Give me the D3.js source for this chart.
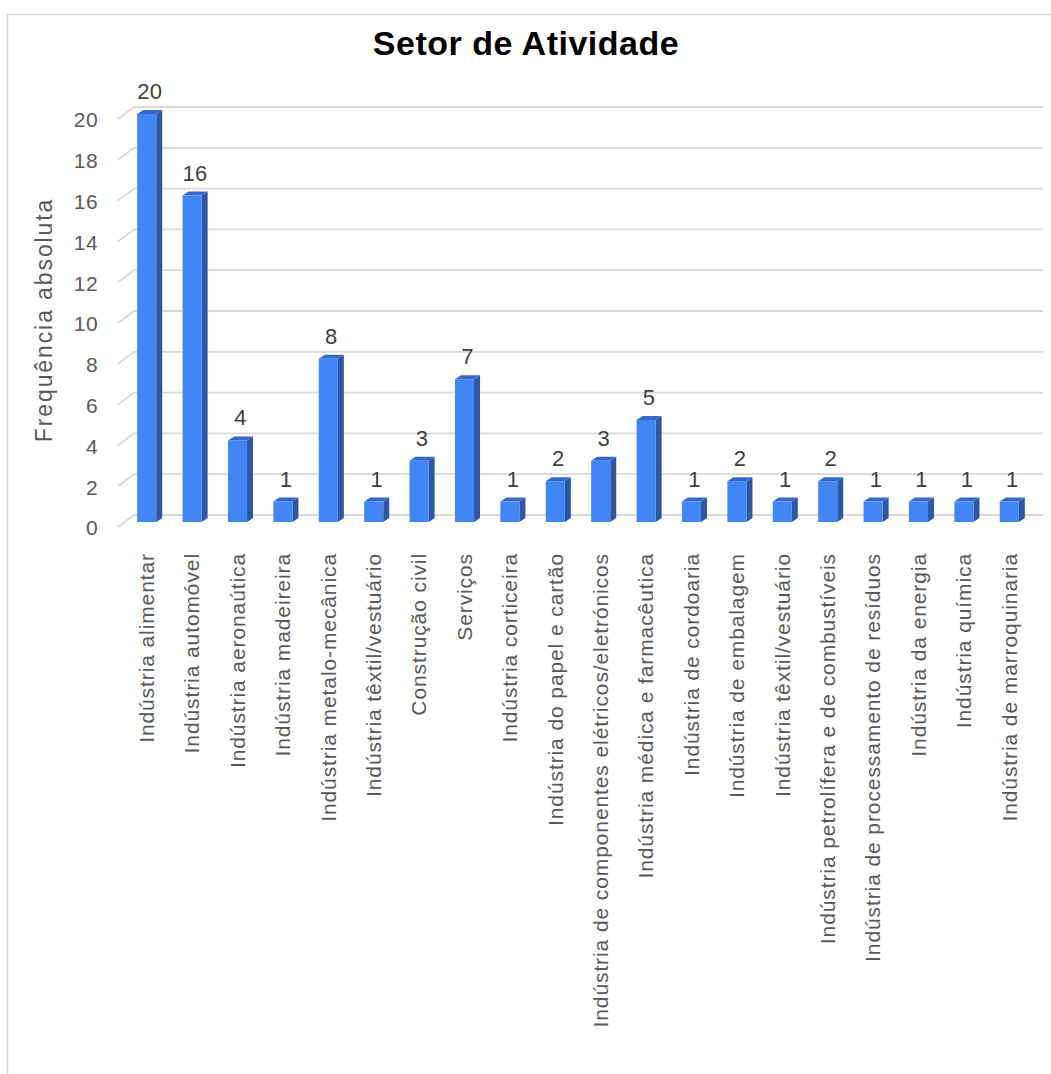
<!DOCTYPE html>
<html><head><meta charset="utf-8">
<script src="https://cdn.jsdelivr.net/npm/d3@7"></script>
<style>body{margin:0;background:#fff}svg{display:block;font-family:"Liberation Sans",Arial,sans-serif}</style>
</head><body><svg id="c" width="1051" height="1074"></svg>
<script>
const categories = ["Indústria alimentar","Indústria automóvel","Indústria aeronaútica","Indústria madeireira","Indústria metalo-mecânica","Indústria têxtil/vestuário","Construção civil","Serviços","Indústria corticeira","Indústria do papel e cartão","Indústria de componentes elétricos/eletrónicos","Indústria médica e farmacêutica","Indústria de cordoaria","Indústria de embalagem","Indústria têxtil/vestuário","Indústria petrolífera e de combustíveis","Indústria de processamento de resíduos","Indústria da energia","Indústria química","Indústria de marroquinaria"];
const values = [20,16,4,1,8,1,3,7,1,2,3,5,1,2,1,2,1,1,1,1];
const yTicks = [0,2,4,6,8,10,12,14,16,18,20];
const title = "Setor de Atividade";
const yTitle = "Frequência absoluta";

const svg = d3.select("#c");
svg.append("rect").attr("x",7.5).attr("y",14.5).attr("width",1100).attr("height",1100)
  .attr("fill","#fff").attr("stroke","#d9d9d9").attr("stroke-width",1.5);

const x = d3.scaleBand().domain(d3.range(categories.length)).range([124,1032]).paddingInner(0.58).paddingOuter(0.29);
const y = d3.scaleLinear().domain([0,20]).range([522,114]);

// gridlines
const g = svg.append("g");
yTicks.forEach(t=>{
  const yy = y(t);
  g.append("path").attr("d",`M118,${yy+5}L134,${yy-7}L1043,${yy-7}`)
    .attr("fill","none").attr("stroke","#d9d9d9").attr("stroke-width",1.8);
  g.append("text").attr("x",98).attr("y",yy+6).attr("dy","0.35em").attr("text-anchor","end")
    .attr("font-size",21).attr("letter-spacing",0.4).attr("fill","#595959").text(t);
});

const dx=6, dy=-4;
const bars = svg.append("g");
values.forEach((v,i)=>{
  const x0 = x(i), w = x.bandwidth(), yv = y(v), y0 = y(0);
  bars.append("path").attr("d",`M${x0+w},${yv}L${x0+w+dx},${yv+dy}L${x0+w+dx},${y0+dy}L${x0+w},${y0}Z`).attr("fill","#2b57a3");
  bars.append("path").attr("d",`M${x0},${yv}L${x0+dx},${yv+dy}L${x0+w+dx},${yv+dy}L${x0+w},${yv}Z`).attr("fill","#3568cc");
  bars.append("rect").attr("x",x0).attr("y",yv).attr("width",w).attr("height",y0-yv).attr("fill","#4285f4");
  bars.append("text").attr("x",x0+w/2+3).attr("y",yv-15).attr("text-anchor","middle")
    .attr("font-size",22).attr("letter-spacing",0.3).attr("fill","#404040").text(v);
});

// x labels
categories.forEach((c,i)=>{
  const cx = x(i)+x.bandwidth()/2;
  svg.append("text").attr("transform",`translate(${cx},553) rotate(-90)`)
    .attr("text-anchor","end").attr("dy","0.35em").attr("font-size",21).attr("letter-spacing",0.9)
    .attr("fill","#595959").text(c);
});

svg.append("text").attr("x",526).attr("y",55).attr("text-anchor","middle").attr("font-size",34)
  .attr("letter-spacing",0.5).attr("font-weight","bold").attr("fill","#000").text(title);
svg.append("text").attr("transform","translate(44,320) rotate(-90)").attr("text-anchor","middle")
  .attr("dy","0.35em").attr("font-size",23).attr("letter-spacing",1.9).attr("fill","#595959").text(yTitle);
</script></body></html>
